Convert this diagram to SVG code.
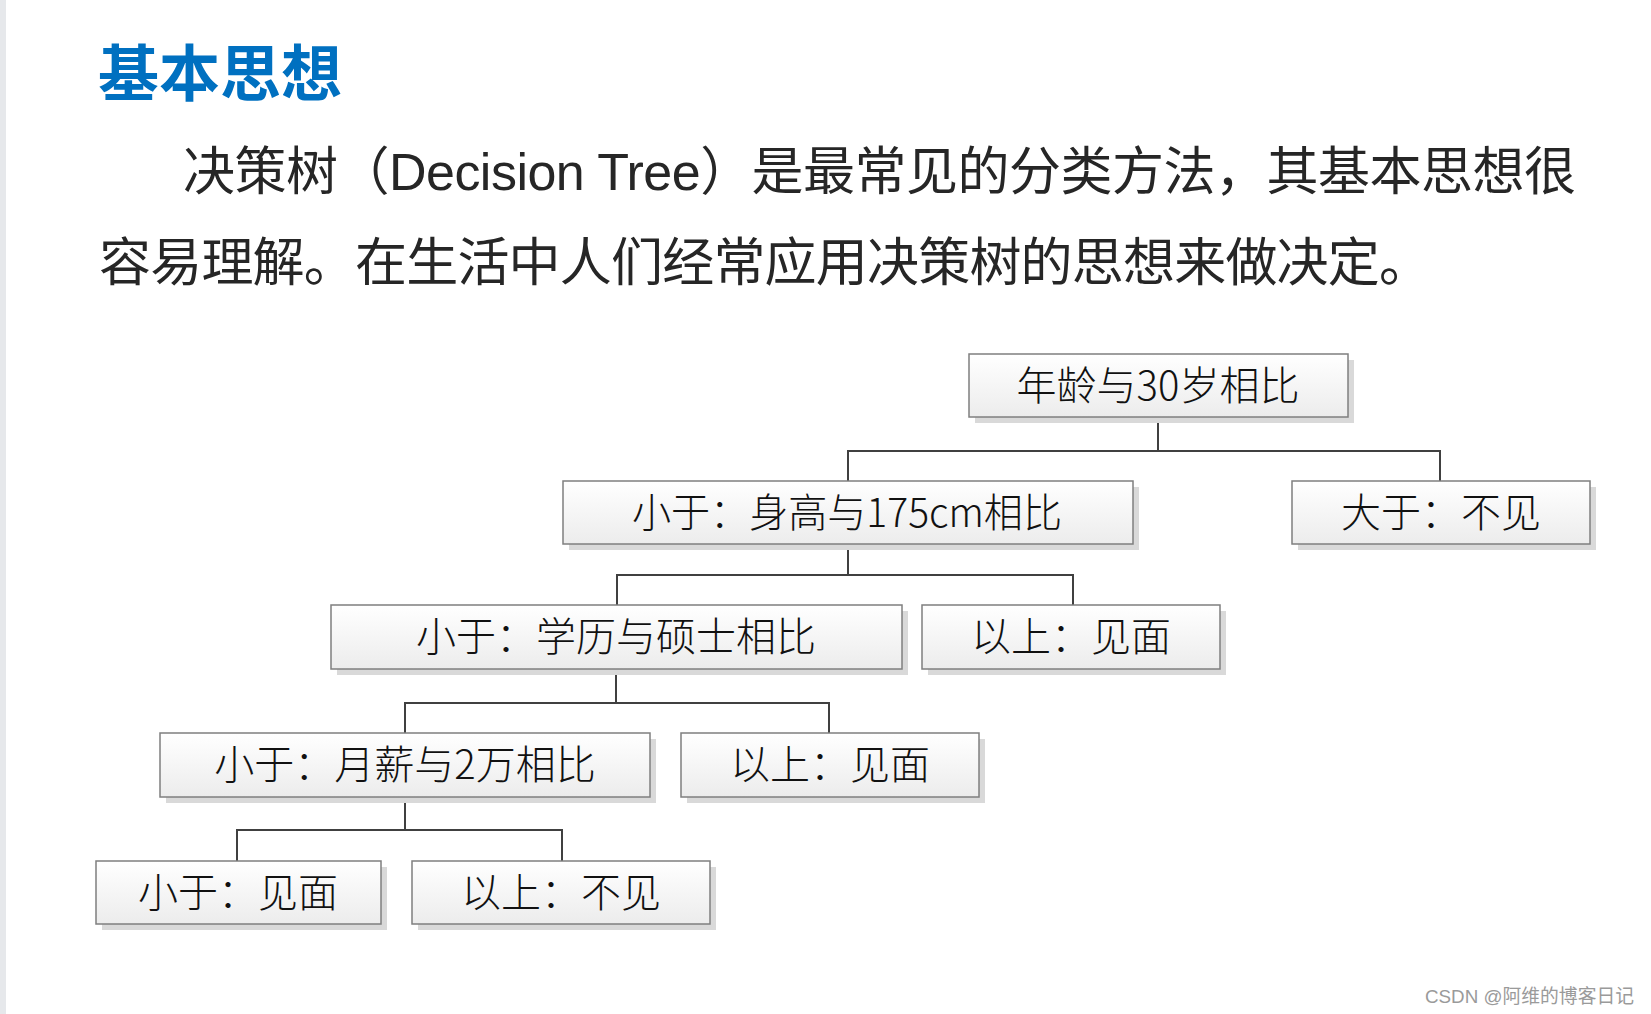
<svg xmlns="http://www.w3.org/2000/svg" width="1651" height="1014" viewBox="0 0 1651 1014">
<defs>
<linearGradient id="boxg" x1="0" y1="0" x2="0" y2="1">
<stop offset="0" stop-color="#ffffff"/>
<stop offset="1" stop-color="#ececec"/>
</linearGradient>
<style>
.box{fill:url(#boxg);stroke:#7f7f7f;stroke-width:1.5}
.shadow{fill:#d9d9d9}
.lbl{font-family:"Noto Sans CJK SC","Liberation Sans",sans-serif;font-size:40px;font-weight:300;fill:#111;text-anchor:middle}
.conn{fill:none;stroke:#404040;stroke-width:2}
.para{font-family:"Liberation Sans","Noto Sans CJK SC",sans-serif;font-size:52px;fill:#262626}
</style>
</defs>
<rect x="0" y="0" width="1651" height="1014" fill="#ffffff"/>
<rect x="0" y="0" width="6" height="1014" fill="#e6e8eb"/>
<text x="98" y="96" font-family="'Noto Sans CJK SC',sans-serif" font-size="61" font-weight="bold" fill="#0070c0">基本思想</text>
<text class="para" x="183" y="190" textLength="1393" lengthAdjust="spacing">决策树（Decision Tree）是最常见的分类方法，其基本思想很</text>
<text class="para" x="99" y="281" textLength="1332" lengthAdjust="spacing">容易理解。在生活中人们经常应用决策树的思想来做决定。</text>
<g id="connectors">
<polyline class="conn" points="1158,417 1158,451"/>
<polyline class="conn" points="848,481 848,451 1440,451 1440,481"/>
<polyline class="conn" points="848,544 848,575"/>
<polyline class="conn" points="617,605 617,575 1073,575 1073,605"/>
<polyline class="conn" points="616,669 616,703"/>
<polyline class="conn" points="405,733 405,703 829,703 829,733"/>
<polyline class="conn" points="405,797 405,830"/>
<polyline class="conn" points="237,861 237,830 562,830 562,861"/>
</g>
<g id="n1">
<rect class="shadow" x="975" y="360" width="379" height="63"/>
<rect class="box" x="969" y="354" width="379" height="63"/>
<text class="lbl" x="1158" y="400">年龄与30岁相比</text>
</g>
<g id="n2">
<rect class="shadow" x="569" y="487" width="570" height="63"/>
<rect class="box" x="563" y="481" width="570" height="63"/>
<text class="lbl" x="847" y="527" textLength="430" lengthAdjust="spacingAndGlyphs">小于：身高与175cm相比</text>
</g>
<g id="n3">
<rect class="shadow" x="1298" y="487" width="298" height="63"/>
<rect class="box" x="1292" y="481" width="298" height="63"/>
<text class="lbl" x="1441" y="527">大于：不见</text>
</g>
<g id="n4">
<rect class="shadow" x="337" y="611" width="571" height="64"/>
<rect class="box" x="331" y="605" width="571" height="64"/>
<text class="lbl" x="616" y="651">小于：学历与硕士相比</text>
</g>
<g id="n5">
<rect class="shadow" x="928" y="611" width="298" height="64"/>
<rect class="box" x="922" y="605" width="298" height="64"/>
<text class="lbl" x="1071" y="651">以上：见面</text>
</g>
<g id="n6">
<rect class="shadow" x="166" y="739" width="490" height="64"/>
<rect class="box" x="160" y="733" width="490" height="64"/>
<text class="lbl" x="405" y="779">小于：月薪与2万相比</text>
</g>
<g id="n7">
<rect class="shadow" x="687" y="739" width="298" height="64"/>
<rect class="box" x="681" y="733" width="298" height="64"/>
<text class="lbl" x="830" y="779">以上：见面</text>
</g>
<g id="n8">
<rect class="shadow" x="102" y="867" width="285" height="63"/>
<rect class="box" x="96" y="861" width="285" height="63"/>
<text class="lbl" x="238" y="907">小于：见面</text>
</g>
<g id="n9">
<rect class="shadow" x="418" y="867" width="298" height="63"/>
<rect class="box" x="412" y="861" width="298" height="63"/>
<text class="lbl" x="561" y="907">以上：不见</text>
</g>
<text x="1425" y="1003" font-family="'Liberation Sans','Noto Sans CJK SC',sans-serif" font-size="19" fill="#9a9a9a" textLength="209" lengthAdjust="spacingAndGlyphs">CSDN @阿维的博客日记</text>
</svg>
